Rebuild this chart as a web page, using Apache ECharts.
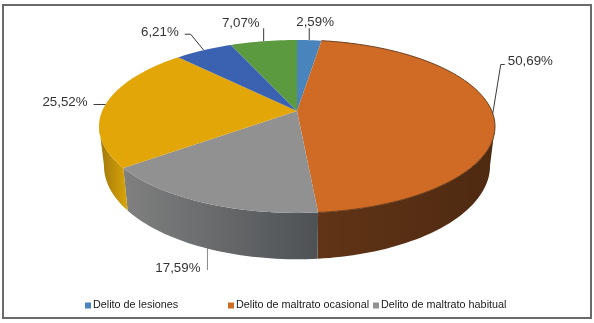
<!DOCTYPE html>
<html>
<head>
<meta charset="utf-8">
<style>html,body{margin:0;padding:0;background:#fff}#c{width:594px;height:323px}</style>
<script src="https://cdn.jsdelivr.net/npm/echarts@6/dist/echarts.min.js"></script>
</head>
<body>
<div id="c"></div>
<script>
var categories = ['Delito de lesiones', 'Delito de maltrato ocasional', 'Delito de maltrato habitual', 'Categoría 4', 'Categoría 5', 'Categoría 6'];
var values = [2.59, 50.69, 17.59, 25.52, 6.21, 7.07];
var labels = ['2,59%', '50,69%', '17,59%', '25,52%', '6,21%', '7,07%'];
var legendNames = ['Delito de lesiones', 'Delito de maltrato ocasional', 'Delito de maltrato habitual'];

var topColors = ['#4a84bd', '#d06b26', '#919191', '#e2a608', '#3a62b0', '#5b9a3f'];
var wallStops = [
  ['#3a6690', '#3a6690'], ['#613416', '#4e2a11'], ['#808080', '#4e5255'],
  ['#a97f0c', '#d9a406'], ['#2c4a85', '#2c4a85'], ['#44742f', '#44742f']
];
var wallRange = [[297, 320], [316, 492], [123, 316], [104, 127], [180, 232], [232, 297]];
var leaders = [
  [[0, -12]],
  [[8, -49], [12, -49]],
  [[0, 22]],
  [[-12, 0]],
  [[-13, -16], [-19, -16]],
  [[0, -13]]
];
var textAt = [[-13, -18, 'left'], [15, -52, 'left'], [-7, 20, 'right'], [-18, -2, 'right'], [-25, -18, 'right'], [-4, -18, 'right']];

var CX = 297, CY = 111, R = 194.8, H = 83.7, K = 0.179, DEPTH = 38, SHRINK = 0.975;
var WALL_FROM = 100, WALL_TO = 260;
var total = values.reduce(function (a, b) { return a + b; }, 0);

function topPoint(deg) {
  var a = deg * Math.PI / 180, u = Math.sin(a), v = Math.cos(a), w = 1 + K * v;
  return [CX + R * u / w, CY - H * v / w, w];
}
function bottomPoint(deg) {
  var p = topPoint(deg);
  return [CX + (p[0] - CX) * SHRINK, p[1] + DEPTH / p[2]];
}
function arc(fn, a0, a1) {
  var pts = [], n = Math.max(2, Math.ceil(Math.abs(a1 - a0) / 1.5));
  for (var i = 0; i <= n; i++) pts.push(fn(a0 + (a1 - a0) * i / n).slice(0, 2));
  return pts;
}

function makeRender(idx) {
  return function (params, api) {
    var before = 0;
    for (var i = 0; i < idx; i++) before += values[i];
    var a0 = before / total * 360;
    var a1 = a0 + api.value(0) / total * 360;
    var mid = (a0 + a1) / 2;
    var topArc = arc(topPoint, a0, a1);
    var topPts = [[CX, CY]].concat(topArc);
    var anchor = topPoint(mid).slice(0, 2);
    if (idx === 2) { anchor = [bottomPoint(mid)[0] + 2, bottomPoint(mid)[1]]; }
    var line = [anchor].concat(leaders[idx].map(function (d) { return [anchor[0] + d[0], anchor[1] + d[1]]; }));
    var t = textAt[idx];
    var kids = [];
    var w0 = Math.max(a0, WALL_FROM), w1 = Math.min(a1, WALL_TO);
    if (w1 > w0) {
      kids.push({ type: 'polygon', z2: 1, shape: { points: arc(topPoint, w0, w1).concat(arc(bottomPoint, w1, w0)) }, style: {
        fill: { type: 'linear', global: true, x: wallRange[idx][0], y: 0, x2: wallRange[idx][1], y2: 0,
          colorStops: [{ offset: 0, color: wallStops[idx][0] }, { offset: 1, color: wallStops[idx][1] }] }
      } });
    }
    kids.push(
      { type: 'polygon', z2: 5, shape: { points: topPts }, style: { fill: topColors[idx] } },
      { type: 'polyline', z2: 8, shape: { points: line }, style: { stroke: idx === 2 ? '#8a8a8a' : '#3a3a3a', lineWidth: 1, fill: null } },
      { type: 'text', z2: 9, x: anchor[0] + t[0], y: anchor[1] + t[1], style: {
        text: labels[idx], fill: '#333333', font: '13.3px "Liberation Sans", Arial, sans-serif', textAlign: t[2], textVerticalAlign: 'middle'
      } }
    );
    if (idx === 1) {
      kids.push({ type: 'polyline', z2: 6, shape: { points: topArc }, style: { stroke: '#6b3f1e', lineWidth: 1, fill: null } });
    }
    return { type: 'group', children: kids };
  };
}

var series = categories.map(function (name, i) {
  return {
    type: 'custom', name: name, coordinateSystem: 'none', silent: true,
    z: i + 1, clip: false,
    itemStyle: { color: topColors[i] },
    data: [[values[i]]],
    renderItem: makeRender(i)
  };
});
var legendLeft = [85, 228, 373];
var legends = legendNames.map(function (n, i) {
  return {
    data: [n], left: legendLeft[i], top: 300, icon: 'rect', itemWidth: 6, itemHeight: 6, itemGap: 0,
    selectedMode: false, padding: 0,
    textStyle: { fontFamily: '"Liberation Sans", Arial, sans-serif', fontSize: 10.8, color: '#1a1a1a', padding: [0, 0, 0, -3] }
  };
});

var chart = echarts.init(document.getElementById('c'), null, { renderer: 'canvas', width: 594, height: 323 });
chart.setOption({
  animation: false,
  backgroundColor: '#ffffff',
  legend: legends,
  graphic: [{ type: 'rect', silent: true, shape: { x: 3, y: 5, width: 588, height: 313 }, style: { fill: null, stroke: '#6a6a6a', lineWidth: 2 } }],
  series: series
});
</script>
</body>
</html>
